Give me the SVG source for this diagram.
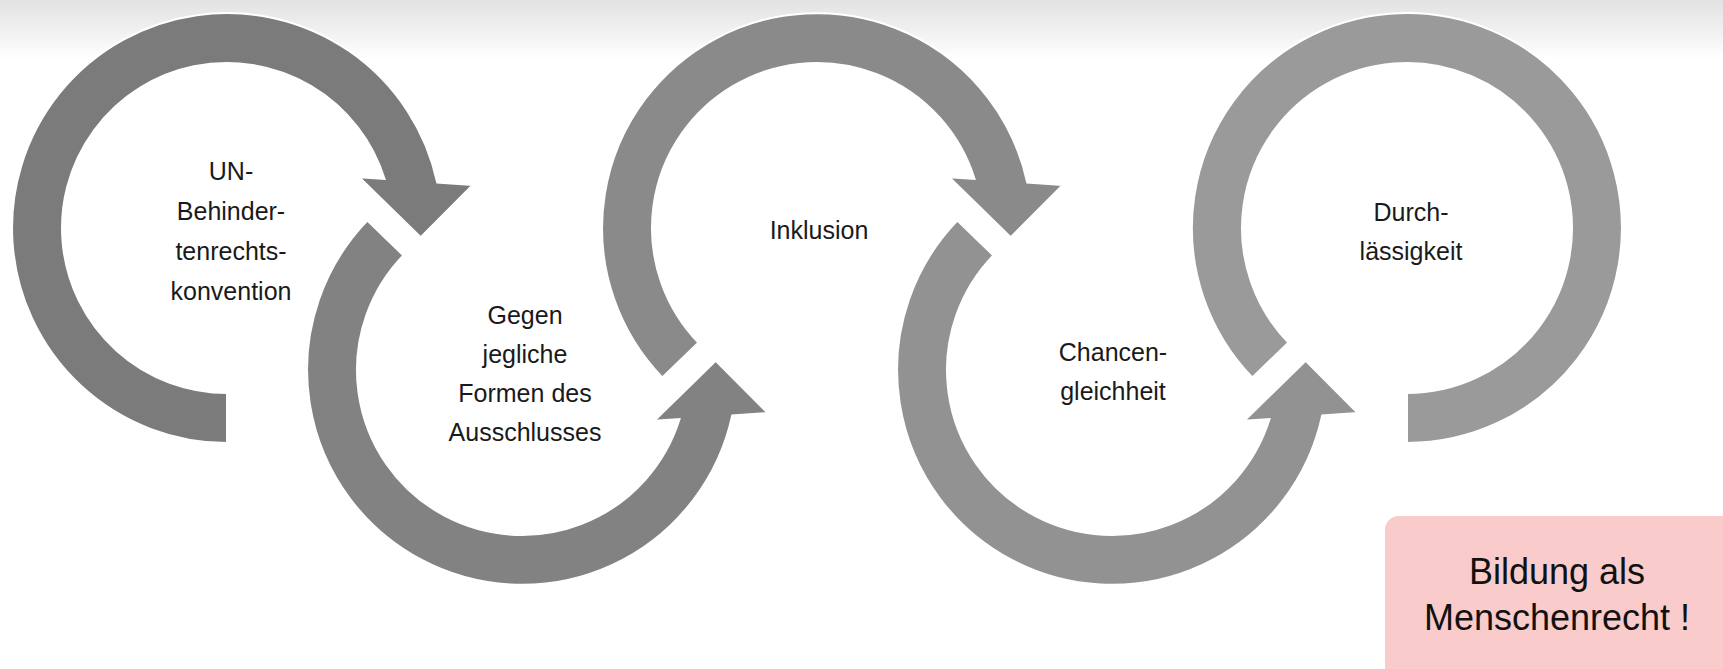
<svg xmlns="http://www.w3.org/2000/svg" width="1723" height="669" viewBox="0 0 1723 669">
  <defs>
    <linearGradient id="topShade" x1="0" y1="0" x2="0" y2="1">
      <stop offset="0" stop-color="#e2e2e2"/>
      <stop offset="1" stop-color="#ffffff"/>
    </linearGradient>
    <path id="ringTail" d="M0,215 A215,215 0 1 1 210.2,-45.4 L245.7,-43 L193.7,9.3 L132.3,-50.7 L157.5,-49.2 A165,165 0 1 0 0,165 Z"/>
    <path id="ringCut" d="M-154.7,149.4 A215,215 0 1 1 210.2,-45.4 L245.7,-43 L193.7,9.3 L132.3,-50.7 L157.5,-49.2 A165,165 0 1 0 -118.7,114.6 Z"/>
    <path id="ringEnd" d="M-154.7,149.4 A215,215 0 1 1 0,215 L0,165 A165,165 0 1 0 -118.7,114.6 Z"/>
  </defs>
  <style>
    .arc { stroke: #ffffff; stroke-width: 2; stroke-linejoin: miter; }
    .lbl { font-family: "Liberation Sans", Arial, sans-serif; font-size: 25px; fill: #1a1a1a; text-anchor: middle; }
    .box { fill: #f9cbcb; }
    .boxlbl { font-family: "Liberation Sans", Arial, sans-serif; font-size: 36px; fill: #111111; text-anchor: middle; }
  </style>
  <rect x="0" y="0" width="1723" height="669" fill="#ffffff"/>
  <rect x="0" y="0" width="1723" height="60" fill="url(#topShade)"/>

  <g id="connectors">
    <use href="#ringTail" class="arc" fill="#7b7b7b" transform="translate(227,228)"/>
    <use href="#ringCut" class="arc" fill="#828282" transform="translate(522,370) scale(1,-1)"/>
    <use href="#ringCut" class="arc" fill="#8a8a8a" transform="translate(817,228)"/>
    <use href="#ringCut" class="arc" fill="#929292" transform="translate(1112,370) scale(1,-1)"/>
    <use href="#ringEnd" class="arc" fill="#9a9a9a" transform="translate(1407,228)"/>
  </g>

  <g id="node-un">
    <text class="lbl" x="231" y="180">UN-</text>
    <text class="lbl" x="231" y="220">Behinder-</text>
    <text class="lbl" x="231" y="260">tenrechts-</text>
    <text class="lbl" x="231" y="300">konvention</text>
  </g>
  <g id="node-ausschluss">
    <text class="lbl" x="525" y="324">Gegen</text>
    <text class="lbl" x="525" y="363">jegliche</text>
    <text class="lbl" x="525" y="402">Formen des</text>
    <text class="lbl" x="525" y="441">Ausschlusses</text>
  </g>
  <g id="node-inklusion">
    <text class="lbl" x="819" y="239">Inklusion</text>
  </g>
  <g id="node-chancen">
    <text class="lbl" x="1113" y="361">Chancen-</text>
    <text class="lbl" x="1113" y="400">gleichheit</text>
  </g>
  <g id="node-durch">
    <text class="lbl" x="1411" y="221">Durch-</text>
    <text class="lbl" x="1411" y="260">lässigkeit</text>
  </g>
  <g id="node-bildung">
    <rect class="box" x="1385" y="516" width="360" height="180" rx="14" ry="14"/>
    <text class="boxlbl" x="1557" y="584">Bildung als</text>
    <text class="boxlbl" x="1557" y="630">Menschenrecht !</text>
  </g>
</svg>
